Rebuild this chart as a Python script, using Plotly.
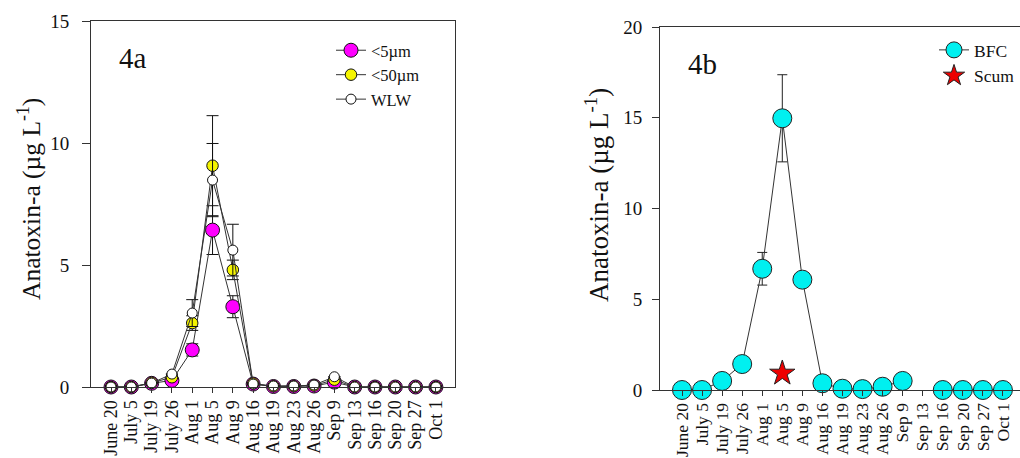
import plotly.graph_objects as go

# Sampling dates (shared by both panels)
dates = ["June 20", "July 5", "July 19", "July 26", "Aug 1", "Aug 5", "Aug 9",
         "Aug 16", "Aug 19", "Aug 23", "Aug 26", "Sep 9", "Sep 13", "Sep 16",
         "Sep 20", "Sep 27", "Oct 1"]

# Panel 4a: size-fractionated anatoxin-a (µg/L)
lt5 = [0, 0, 0.15, 0.27, 1.52, 6.43, 3.29, 0.12, 0.02, 0.02, 0.04, 0.20, 0, 0, 0, 0, 0]
lt5_err = [0, 0, 0, 0, 0.25, 1.0, 0.45, 0, 0, 0, 0, 0, 0, 0, 0, 0, 0]
lt50 = [0, 0, 0.17, 0.40, 2.62, 9.07, 4.80, 0.14, 0.03, 0.03, 0.06, 0.30, 0, 0, 0, 0, 0]
lt50_err = [0, 0, 0, 0, 0.30, 2.05, 0.40, 0, 0, 0, 0, 0, 0, 0, 0, 0, 0]
wlw = [0, 0, 0.16, 0.53, 3.03, 8.48, 5.61, 0.12, 0.04, 0.04, 0.08, 0.42, 0, 0, 0, 0, 0]
wlw_err = [0, 0, 0, 0, 0.55, 1.5, 1.06, 0, 0, 0, 0, 0, 0, 0, 0, 0, 0]

# Panel 4b: BFC anatoxin-a (no sample on Sep 13) and one scum sample
bfc = [0, 0, 0.50, 1.43, 6.68, 14.97, 6.08, 0.37, 0.07, 0.05, 0.18, 0.50, None, 0, 0, 0, 0]
bfc_err = [0, 0, 0, 0, 0.9, 2.4, 0, 0, 0, 0, 0, 0, 0, 0, 0, 0, 0]
scum_dates = ["Aug 5"]
scum = [0.92]

W, H = 1020, 458
FONT = "'Liberation Serif', 'Times New Roman', 'DejaVu Serif', serif"
LINE = "#333333"
INK = "#111111"


def err(vals):
    return [v if v else None for v in vals]


def px_x(p):
    return p / W


def px_y(p):
    return 1 - p / H


fig = go.Figure()

series_a = [
    ("<5µm", lt5, lt5_err, "#ff00ff", 14),
    ("<50µm", lt50, lt50_err, "#f5f500", 11.5),
    ("WLW", wlw, wlw_err, "#ffffff", 10),
]
for name, y, e, col, size in series_a:
    fig.add_trace(go.Scatter(
        x=dates, y=y, name=name, mode="lines+markers",
        line=dict(color=LINE, width=1),
        marker=dict(color=col, size=size, line=dict(color=INK, width=1)),
        error_y=dict(type="data", array=err(e), color=INK, thickness=1, width=6),
        xaxis="x", yaxis="y", legend="legend", cliponaxis=False,
    ))

fig.add_trace(go.Scatter(
    x=dates, y=bfc, name="BFC", mode="lines+markers", connectgaps=False,
    line=dict(color=LINE, width=1),
    marker=dict(color="#00f0f0", size=19, line=dict(color="#222222", width=1)),
    error_y=dict(type="data", array=err(bfc_err), color="#222222", thickness=1, width=5),
    xaxis="x2", yaxis="y2", legend="legend2", cliponaxis=False,
))
fig.add_trace(go.Scatter(
    x=scum_dates, y=scum, name="Scum", mode="markers",
    marker=dict(symbol="star", color="#ee0000", size=19, line=dict(color="#222222", width=1)),
    xaxis="x2", yaxis="y2", legend="legend2", cliponaxis=False,
))

tickfont = dict(family=FONT, size=19, color=INK)


def cat_axis(domain, anchor, rng, size, mirror):
    return dict(
        domain=domain, anchor=anchor,
        type="category", categoryorder="array", categoryarray=dates,
        tickmode="array", tickvals=dates, ticktext=dates,
        range=rng,
        showline=True, linecolor=LINE, linewidth=1, mirror=mirror,
        ticks="outside", ticklen=5, tickcolor=LINE, tickangle=-90,
        tickfont=dict(family=FONT, size=size, color=INK),
        showgrid=False, zeroline=False,
    )


fig.update_layout(
    width=W, height=H,
    margin=dict(l=0, r=0, t=0, b=0, autoexpand=False),
    paper_bgcolor="white", plot_bgcolor="white",
    font=dict(family=FONT, color=INK),
    xaxis=cat_axis([px_x(91), px_x(455)], "y", [-0.985, 16.94], 18, True),
    yaxis=dict(
        domain=[px_y(387), px_y(21)], anchor="x",
        range=[0, 15], tickvals=[0, 5, 10, 15],
        showline=True, linecolor=LINE, linewidth=1, mirror=True,
        ticks="outside", ticklen=8, tickcolor=LINE, ticklabelstandoff=9,
        tickfont=tickfont, showgrid=False, zeroline=False,
    ),
    xaxis2=cat_axis([px_x(660), 1.0], "y2", [-1.097, 16.85], 17.5, True),
    yaxis2=dict(
        domain=[px_y(390), px_y(27)], anchor="x2",
        range=[0, 20], tickvals=[0, 5, 10, 15, 20],
        showline=True, linecolor=LINE, linewidth=1, mirror=False,
        ticks="outside", ticklen=7, tickcolor=LINE, ticklabelstandoff=6,
        tickfont=tickfont, showgrid=False, zeroline=False,
    ),
    legend=dict(
        x=px_x(331), y=px_y(33), xanchor="left", yanchor="top",
        bgcolor="rgba(0,0,0,0)", borderwidth=0,
        font=dict(family=FONT, size=16.5, color=INK),
        tracegroupgap=0, itemsizing="trace",
    ),
    legend2=dict(
        x=px_x(934), y=px_y(32), xanchor="left", yanchor="top",
        bgcolor="rgba(0,0,0,0)", borderwidth=0,
        font=dict(family=FONT, size=17.5, color=INK),
        tracegroupgap=0, itemsizing="trace",
    ),
    annotations=[
        dict(text="Anatoxin-a (µg L<sup>-1</sup>)", textangle=-90,
             x=px_x(30), y=px_y(199), xref="paper", yref="paper",
             xanchor="center", yanchor="middle",
             showarrow=False, font=dict(family=FONT, size=25.5, color=INK)),
        dict(text="Anatoxin-a (µg L<sup>-1</sup>)", textangle=-90,
             x=px_x(597), y=px_y(195), xref="paper", yref="paper",
             xanchor="center", yanchor="middle",
             showarrow=False, font=dict(family=FONT, size=27, color=INK)),
        dict(text="4a", x=px_x(117), y=px_y(58), xref="paper", yref="paper",
             xanchor="left", yanchor="middle", showarrow=False,
             font=dict(family=FONT, size=29, color=INK)),
        dict(text="4b", x=px_x(686), y=px_y(64), xref="paper", yref="paper",
             xanchor="left", yanchor="middle", showarrow=False,
             font=dict(family=FONT, size=29, color=INK)),
    ],
)

fig.write_html("out.html")
